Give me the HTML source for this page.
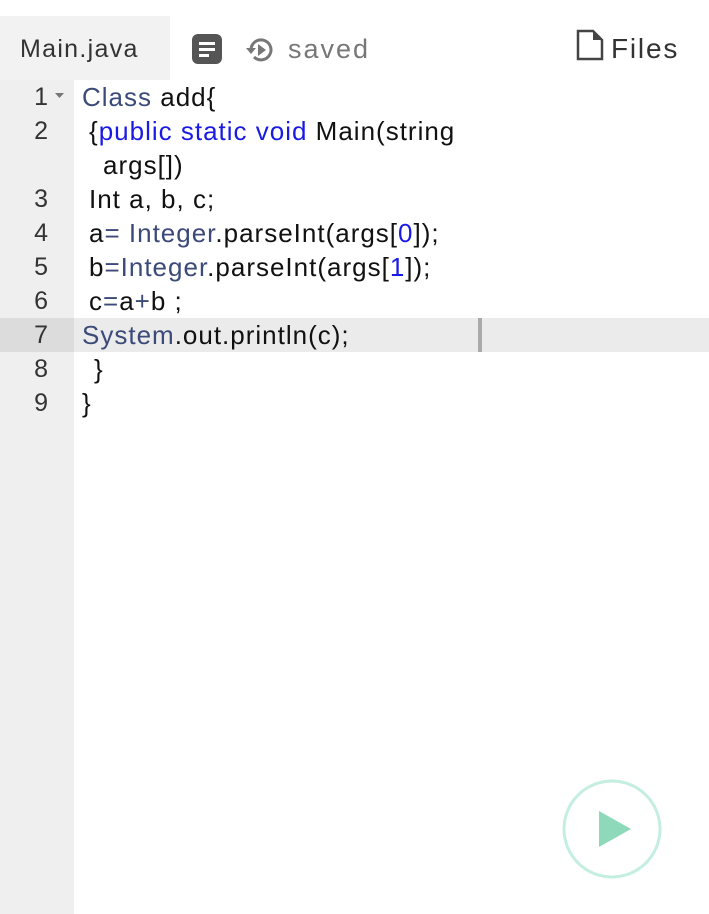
<!DOCTYPE html>
<html><head><style>
body{margin:0;width:709px;height:914px;background:#fff;position:relative;overflow:hidden;font-family:"Liberation Sans",sans-serif;}
.abs{position:absolute;}
.gut{left:0;top:80px;width:74px;height:834px;background:#efefef;}
.tab{left:0;top:16px;width:170px;height:64px;background:#f2f2f2;}
.t{position:absolute;font-size:26px;white-space:pre;line-height:34px;color:#111;letter-spacing:1px}
.n{position:absolute;font-size:25px;line-height:34px;color:#333;width:48px;text-align:right;left:0}
.k{color:#1a1ae6}.c{color:#3b4a78}
</style></head><body>
<div class="abs tab"></div>
<div class="abs gut"></div>
<div class="abs" style="left:0;top:318px;width:74px;height:34px;background:#dcdcdc"></div>
<div class="abs" style="left:74px;top:318px;width:635px;height:34px;background:#ebebeb"></div>
<div class="abs" style="left:478px;top:318px;width:4px;height:34px;background:#aaa"></div>
<div class="t" style="left:20px;top:32px;color:#333;font-size:25px;letter-spacing:1.3px">Main.java</div>
<svg class="abs" style="left:191px;top:33px" width="32" height="32"><rect x="1" y="1" width="30" height="30" rx="6" fill="#555"/><rect x="8" y="9" width="16" height="3" fill="#fff"/><rect x="8" y="15" width="16" height="3" fill="#fff"/><rect x="8" y="21" width="10" height="3" fill="#fff"/></svg>
<svg class="abs" style="left:244px;top:33px" width="34" height="34"><path d="M7 17 A10 10 0 1 1 10 24" fill="none" stroke="#777" stroke-width="3"/><path d="M2 15 L7 21 L12 15Z" fill="#777"/><path d="M14 11 L22 17 L14 23Z" fill="#777"/></svg>
<div class="t" style="left:288px;top:32px;color:#777;letter-spacing:2px;font-size:27px">saved</div>
<svg class="abs" style="left:576px;top:29px" width="28" height="32"><path d="M2 2 H17 L26 11 V30 H2Z" fill="none" stroke="#444" stroke-width="2.5"/><path d="M17 2 V11 H26Z" fill="#444"/></svg>
<div class="t" style="left:611px;top:32px;color:#333;letter-spacing:1.8px;font-size:28px">Files</div>

<div class="n" style="top:80px">1</div>
<svg class="abs" style="left:55px;top:93px" width="10" height="8"><path d="M0 0 H9 L4.5 5Z" fill="#777"/></svg>
<div class="n" style="top:114px">2</div>
<div class="n" style="top:182px">3</div>
<div class="n" style="top:216px">4</div>
<div class="n" style="top:250px">5</div>
<div class="n" style="top:284px">6</div>
<div class="n" style="top:318px">7</div>
<div class="n" style="top:352px">8</div>
<div class="n" style="top:386px">9</div>

<div class="t" style="left:82px;top:80px"><span class="c">Class</span> add{</div>
<div class="t" style="left:89px;top:114px">{<span class="k">public static void</span> Main(string</div>
<div class="t" style="left:103px;top:148px">args[])</div>
<div class="t" style="left:89px;top:182px">Int a, b, c;</div>
<div class="t" style="left:89px;top:216px">a<span class="c">=</span> <span class="c">Integer</span>.parseInt(args[<span class="k">0</span>]);</div>
<div class="t" style="left:89px;top:250px">b<span class="c">=Integer</span>.parseInt(args[<span class="k">1</span>]);</div>
<div class="t" style="left:89px;top:284px">c<span class="c">=</span>a<span class="c">+</span>b ;</div>
<div class="t" style="left:82px;top:318px"><span class="c">System</span>.out.println(c);</div>
<div class="t" style="left:94px;top:352px">}</div>
<div class="t" style="left:82px;top:386px">}</div>

<svg class="abs" style="left:560px;top:778px" width="104" height="104"><circle cx="52" cy="51" r="48" fill="#fff" stroke="#c4eedf" stroke-width="3"/><path d="M39 33 L39 69 L71 51Z" fill="#8ed9b9"/></svg>
</body></html>
